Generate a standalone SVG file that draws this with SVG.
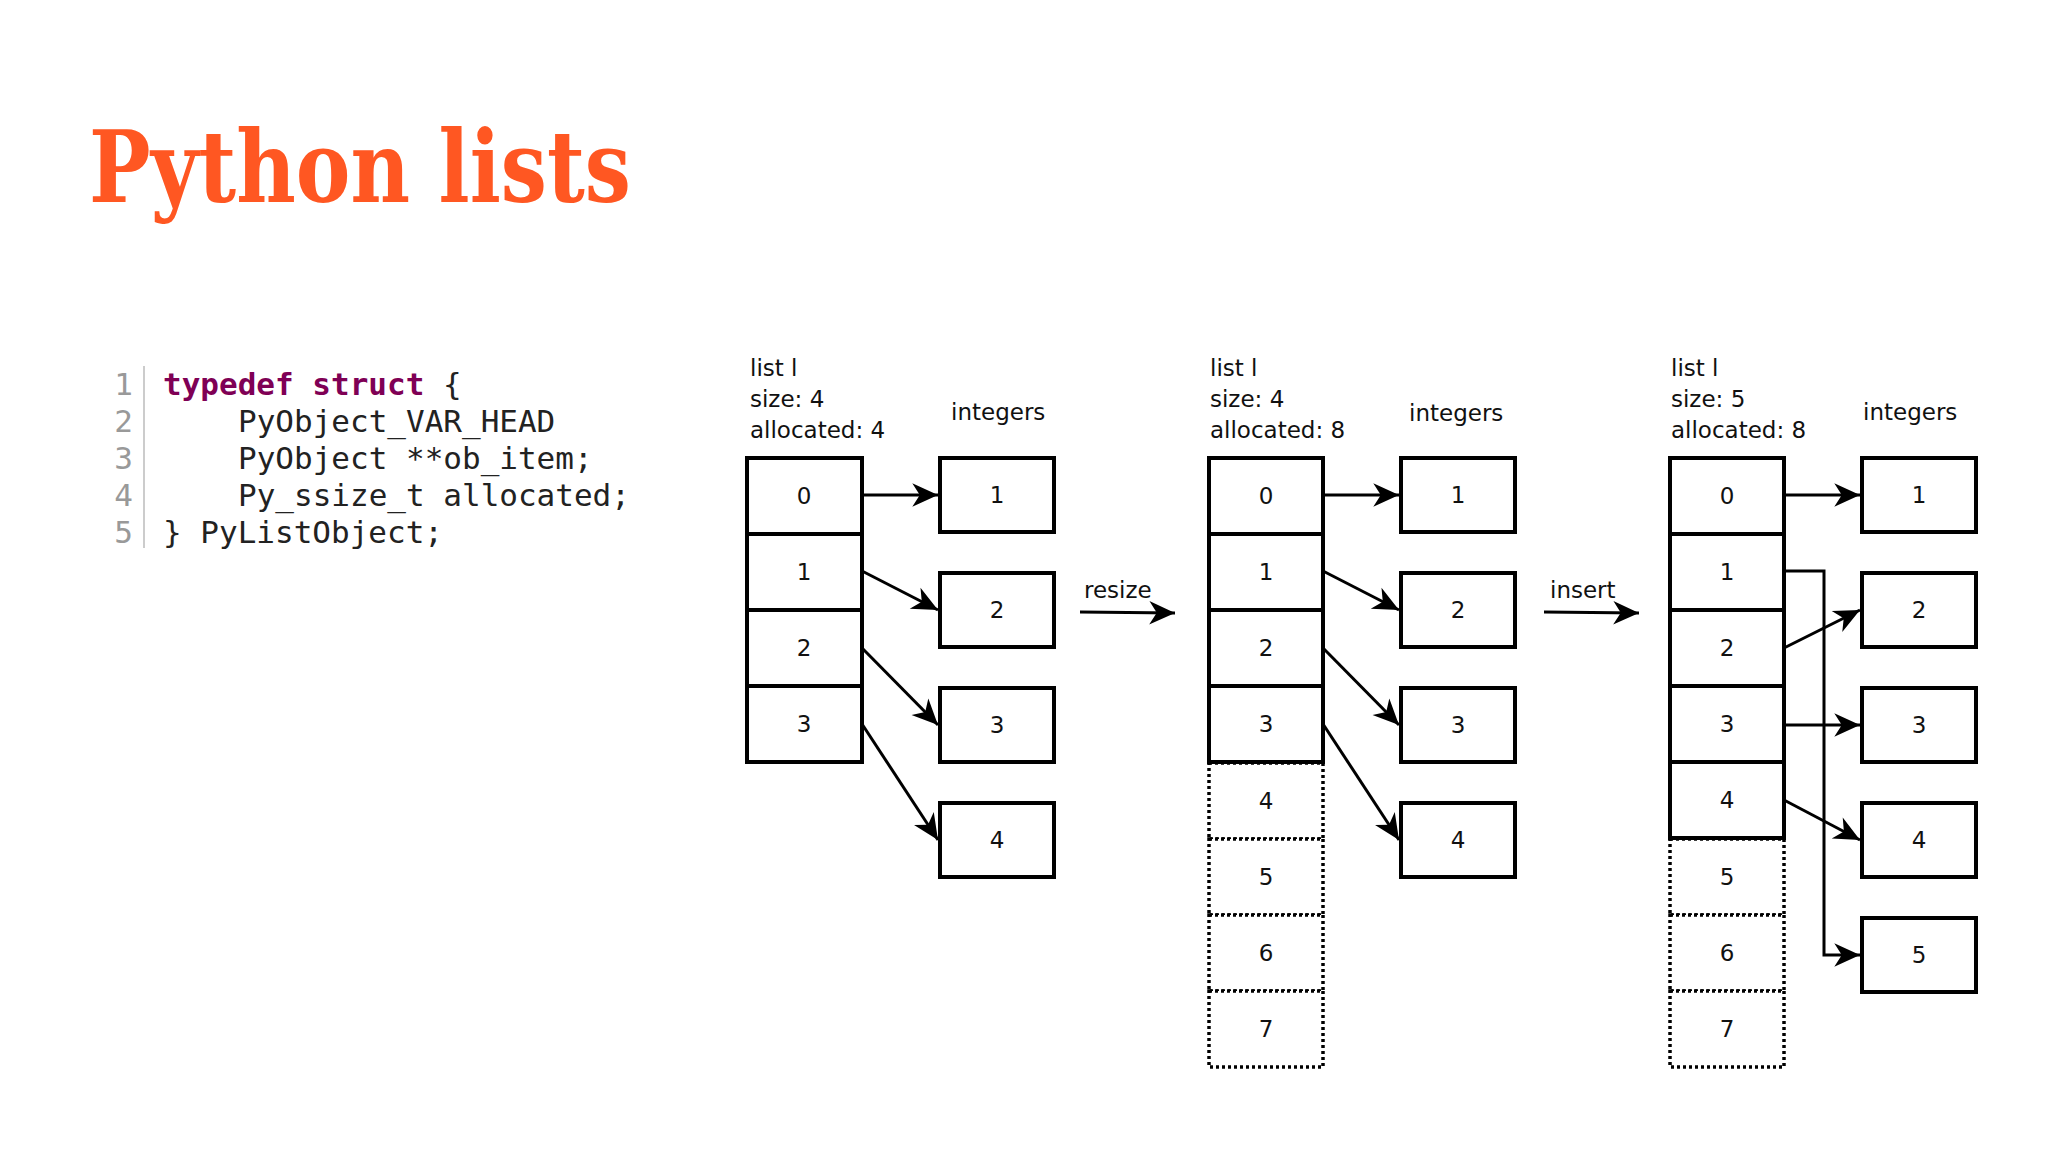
<svg xmlns="http://www.w3.org/2000/svg" width="2048" height="1152" viewBox="0 0 2048 1152">
<defs>
<style>
.t{font-family:"DejaVu Sans","Liberation Sans",sans-serif;font-size:23px;fill:#111}
.c{font-family:"DejaVu Sans","Liberation Sans",sans-serif;font-size:23px;fill:#111;text-anchor:middle}
.code{font-family:"DejaVu Sans Mono","Liberation Mono",monospace;font-size:31px;fill:#222}
.ln{font-family:"DejaVu Sans Mono","Liberation Mono",monospace;font-size:31px;fill:#999;text-anchor:end}
.kw{fill:#7F0055;font-weight:bold}
.cell{fill:#fff;stroke:#000;stroke-width:4}
.dot{fill:#fff;stroke:#000;stroke-width:3.5;stroke-dasharray:3 3}
.ln2{fill:none;stroke:#000;stroke-width:3;marker-end:url(#ah)}
</style>
<marker id="ah" markerUnits="userSpaceOnUse" markerWidth="30" markerHeight="30" viewBox="-26 -13 28 26" refX="0" refY="0" orient="auto">
<path d="M0,0 L-24,-11 L-17,0 L-24,11 Z" fill="#000"/>
</marker>
</defs>
<rect width="2048" height="1152" fill="#fff"/>
<text x="89" y="202" font-family="DejaVu Serif,Liberation Serif,serif" font-weight="900" font-size="100" fill="#FF5722" textLength="542" lengthAdjust="spacingAndGlyphs">Python lists</text>
<g id="code">
<line x1="144" y1="366" x2="144" y2="548" stroke="#ccc" stroke-width="2"/>
<text class="ln" x="133" y="395">1</text><text class="ln" x="133" y="432">2</text><text class="ln" x="133" y="469">3</text><text class="ln" x="133" y="506">4</text><text class="ln" x="133" y="543">5</text>
<text class="code" x="163" y="395"><tspan class="kw">typedef</tspan> <tspan class="kw">struct</tspan> {</text>
<text class="code" x="238" y="432">PyObject_VAR_HEAD</text>
<text class="code" x="238" y="469">PyObject **ob_item;</text>
<text class="code" x="238" y="506">Py_ssize_t allocated;</text>
<text class="code" x="163" y="543">} PyListObject;</text>
</g>
<g id="list1">
<text class="t" x="750" y="376">list l</text><text class="t" x="750" y="407">size: 4</text><text class="t" x="750" y="438">allocated: 4</text>
<rect class="cell" x="747" y="458" width="115" height="76"/><text class="c" x="804" y="504">0</text>
<rect class="cell" x="747" y="534" width="115" height="76"/><text class="c" x="804" y="580">1</text>
<rect class="cell" x="747" y="610" width="115" height="76"/><text class="c" x="804" y="656">2</text>
<rect class="cell" x="747" y="686" width="115" height="76"/><text class="c" x="804" y="732">3</text>
</g>
<g id="ints1">
<text class="t" x="951" y="420">integers</text>
<rect class="cell" x="940" y="458" width="114" height="74"/><text class="c" x="997" y="503">1</text>
<rect class="cell" x="940" y="573" width="114" height="74"/><text class="c" x="997" y="618">2</text>
<rect class="cell" x="940" y="688" width="114" height="74"/><text class="c" x="997" y="733">3</text>
<rect class="cell" x="940" y="803" width="114" height="74"/><text class="c" x="997" y="848">4</text>
</g>
<g id="list2">
<text class="t" x="1210" y="376">list l</text><text class="t" x="1210" y="407">size: 4</text><text class="t" x="1210" y="438">allocated: 8</text>
<rect class="dot" x="1209" y="763" width="114" height="76"/><text class="c" x="1266" y="809">4</text>
<rect class="dot" x="1209" y="839" width="114" height="76"/><text class="c" x="1266" y="885">5</text>
<rect class="dot" x="1209" y="915" width="114" height="76"/><text class="c" x="1266" y="961">6</text>
<rect class="dot" x="1209" y="991" width="114" height="76"/><text class="c" x="1266" y="1037">7</text>
<rect class="cell" x="1209" y="458" width="114" height="76"/><text class="c" x="1266" y="504">0</text>
<rect class="cell" x="1209" y="534" width="114" height="76"/><text class="c" x="1266" y="580">1</text>
<rect class="cell" x="1209" y="610" width="114" height="76"/><text class="c" x="1266" y="656">2</text>
<rect class="cell" x="1209" y="686" width="114" height="76"/><text class="c" x="1266" y="732">3</text>
</g>
<g id="ints2">
<text class="t" x="1409" y="421">integers</text>
<rect class="cell" x="1401" y="458" width="114" height="74"/><text class="c" x="1458" y="503">1</text>
<rect class="cell" x="1401" y="573" width="114" height="74"/><text class="c" x="1458" y="618">2</text>
<rect class="cell" x="1401" y="688" width="114" height="74"/><text class="c" x="1458" y="733">3</text>
<rect class="cell" x="1401" y="803" width="114" height="74"/><text class="c" x="1458" y="848">4</text>
</g>
<g id="list3">
<text class="t" x="1671" y="376">list l</text><text class="t" x="1671" y="407">size: 5</text><text class="t" x="1671" y="438">allocated: 8</text>
<rect class="dot" x="1670" y="839" width="114" height="76"/><text class="c" x="1727" y="885">5</text>
<rect class="dot" x="1670" y="915" width="114" height="76"/><text class="c" x="1727" y="961">6</text>
<rect class="dot" x="1670" y="991" width="114" height="76"/><text class="c" x="1727" y="1037">7</text>
<rect class="cell" x="1670" y="458" width="114" height="76"/><text class="c" x="1727" y="504">0</text>
<rect class="cell" x="1670" y="534" width="114" height="76"/><text class="c" x="1727" y="580">1</text>
<rect class="cell" x="1670" y="610" width="114" height="76"/><text class="c" x="1727" y="656">2</text>
<rect class="cell" x="1670" y="686" width="114" height="76"/><text class="c" x="1727" y="732">3</text>
<rect class="cell" x="1670" y="762" width="114" height="76"/><text class="c" x="1727" y="808">4</text>
</g>
<g id="ints3">
<text class="t" x="1863" y="420">integers</text>
<rect class="cell" x="1862" y="458" width="114" height="74"/><text class="c" x="1919" y="503">1</text>
<rect class="cell" x="1862" y="573" width="114" height="74"/><text class="c" x="1919" y="618">2</text>
<rect class="cell" x="1862" y="688" width="114" height="74"/><text class="c" x="1919" y="733">3</text>
<rect class="cell" x="1862" y="803" width="114" height="74"/><text class="c" x="1919" y="848">4</text>
<rect class="cell" x="1862" y="918" width="114" height="74"/><text class="c" x="1919" y="963">5</text>
</g>
<g id="connectors">
<line class="ln2" x1="862" y1="495" x2="938" y2="495"/>
<line class="ln2" x1="862" y1="571" x2="938" y2="610"/>
<line class="ln2" x1="862" y1="648" x2="938" y2="725"/>
<line class="ln2" x1="862" y1="724" x2="938" y2="840"/>
<line class="ln2" x1="1323" y1="495" x2="1399" y2="495"/>
<line class="ln2" x1="1323" y1="571" x2="1399" y2="610"/>
<line class="ln2" x1="1323" y1="648" x2="1399" y2="725"/>
<line class="ln2" x1="1323" y1="724" x2="1399" y2="840"/>
<line class="ln2" x1="1784" y1="495" x2="1860" y2="495"/>
<polyline class="ln2" points="1784,571 1824,571 1824,955 1860,955"/>
<line class="ln2" x1="1784" y1="648" x2="1860" y2="610"/>
<line class="ln2" x1="1784" y1="725" x2="1860" y2="725"/>
<line class="ln2" x1="1784" y1="800" x2="1860" y2="840"/>
<line class="ln2" x1="1080" y1="612" x2="1175" y2="613"/>
<line class="ln2" x1="1544" y1="612" x2="1639" y2="613"/>
<text class="t" x="1084" y="598">resize</text>
<text class="t" x="1550" y="598">insert</text>
</g>
</svg>
